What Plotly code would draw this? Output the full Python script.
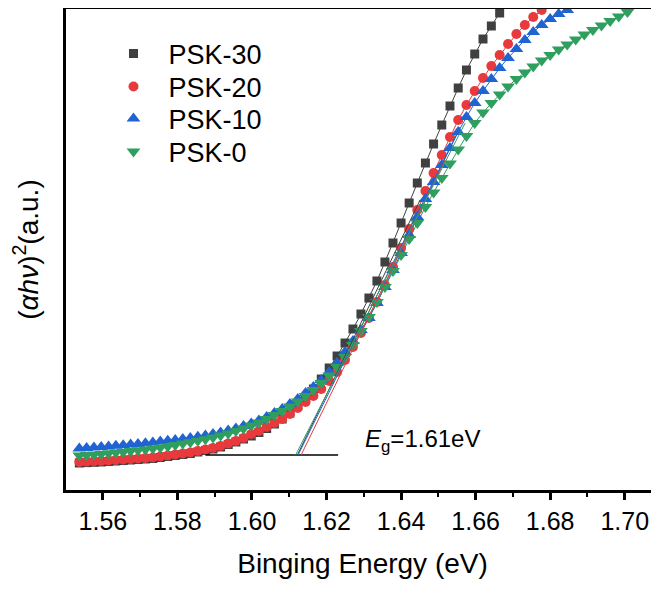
import plotly.graph_objects as go

# Photon energy grid (eV), shared by all samples
energy = [1.55368, 1.55563, 1.55759, 1.55955, 1.56151, 1.56348, 1.56545, 1.56743, 1.56942, 1.57141,
          1.57340, 1.57540, 1.57740, 1.57941, 1.58143, 1.58345, 1.58547, 1.58750, 1.58954, 1.59158,
          1.59362, 1.59568, 1.59773, 1.59980, 1.60186, 1.60394, 1.60601, 1.60810, 1.61018, 1.61228,
          1.61438, 1.61648, 1.61859, 1.62071, 1.62283, 1.62496, 1.62709, 1.62923, 1.63137, 1.63352,
          1.63567, 1.63783, 1.64000, 1.64217, 1.64435, 1.64653, 1.64872, 1.65092, 1.65312, 1.65533,
          1.65754, 1.65976, 1.66198, 1.66422, 1.66645, 1.66870, 1.67094, 1.67320, 1.67546, 1.67773,
          1.68000, 1.68228, 1.68457, 1.68686, 1.68916, 1.69146, 1.69377, 1.69609, 1.69841, 1.70074]

psk30 = [27, 27.4, 27.7, 28, 28.5, 29, 29.5, 30, 30.5, 31,
         31.5, 32.5, 33.5, 34.5, 35.5, 36.5, 38, 39.5, 41, 43,
         45.5, 48, 51, 54, 57.5, 61.5, 66, 71, 77, 84,
         92, 101, 111, 122, 134, 147, 161, 176, 192, 209,
         228, 247, 267, 287, 307, 327, 346, 365, 384, 402,
         420, 436, 451, 464, 477]

psk20 = [28, 28.4, 28.7, 29, 29.5, 30, 30.5, 31, 31.5, 32,
         32.5, 33.5, 34.5, 35.5, 36.5, 37.5, 39, 40.5, 42, 44,
         46.5, 49, 52, 56, 59, 63, 67, 71, 76, 82,
         88, 94, 101, 109, 118, 130, 143, 157, 172, 188,
         205, 223, 242, 261, 280, 299, 317, 335, 353, 370,
         385, 399, 412, 424, 435, 446, 456, 465, 473, 480]

psk10 = [41.5, 42, 42.5, 43, 43.6, 44.2, 44.8, 45.4, 46, 46.8,
         47.6, 48.4, 49.2, 50, 51, 52, 53.2, 54.5, 56, 57.5,
         59.5, 61.5, 64, 66.5, 69.5, 73, 77, 81, 86, 91,
         97, 103, 110, 118, 127, 138, 149, 160, 172, 187,
         203, 220, 237, 255, 273, 291, 308, 325, 342, 358,
         373, 387, 399, 411, 422, 432, 441, 450, 458, 465,
         471, 476, 480]

psk0 = [34.5, 35, 35.5, 36, 36.7, 37.4, 38.1, 38.9, 39.7, 40.6,
        41.5, 42.5, 43.5, 45, 46.4, 47.8, 49.2, 50.8, 52.5, 54.5,
        56.5, 59, 61.5, 64.5, 67.5, 71, 75, 79, 83.5, 88.5,
        94, 100, 107, 114.5, 123, 133, 145, 159, 173, 188,
        203, 219, 235, 251, 267, 283, 297.5, 312, 326.5, 340.5,
        354, 367, 377.5, 387, 395.5, 403.5, 411, 417.5, 423.5, 429.5,
        435, 440.5, 445.5, 450.5, 455.5, 460, 464.5, 469, 473.5, 478]

series_names = ["PSK-30", "PSK-20", "PSK-10", "PSK-0"]
series_values = [psk30, psk20, psk10, psk0]
colors = ["#404040", "#e8393d", "#1f64d2", "#2f9f5f"]
symbols = ["square", "circle", "triangle-up", "triangle-down"]
sizes = [9, 10, 12, 12]

# Tauc extrapolation: baseline and tangent lines (energy, value) end points
baseline_x = [1.5875, 1.6231]
baseline_y = [35, 35]
tangent_x = [[1.61219, 1.64511], [1.61318, 1.65181], [1.61237, 1.65584], [1.61170, 1.65718]]
tangent_y = [[35, 290], [35, 330], [35, 363], [35, 367]]

eg_text = "<i>E</i><sub>g</sub>=1.61eV"
eg_pos = (1.62982, 50)

FONT = "Arial, Liberation Sans, sans-serif"
legend_ids = ["legend", "legend2", "legend3", "legend4"]
legend_rows = [0.9064, 0.8378, 0.7713, 0.7027]

fig = go.Figure()
# thin connecting lines (no legend entry)
for vals, c in zip(series_values, colors):
    fig.add_trace(go.Scatter(x=energy[:len(vals)], y=vals, mode="lines",
                             line=dict(color=c, width=1), showlegend=False, hoverinfo="skip"))
# symbols
for name, vals, c, s, sz, lg in zip(series_names, series_values, colors, symbols, sizes, legend_ids):
    fig.add_trace(go.Scatter(
        x=energy[:len(vals)], y=vals, name=name, mode="markers", legend=lg,
        marker=dict(symbol=s, size=sz, color=c, line=dict(width=0)),
    ))

fig.add_trace(go.Scatter(x=baseline_x, y=baseline_y, mode="lines",
                         line=dict(color="black", width=1.5), showlegend=False, hoverinfo="skip"))
for tx, ty, c in zip(tangent_x, tangent_y, colors):
    fig.add_trace(go.Scatter(x=tx, y=ty, mode="lines", line=dict(color=c, width=1),
                             showlegend=False, hoverinfo="skip"))

fig.add_annotation(x=eg_pos[0], y=eg_pos[1], text=eg_text, showarrow=False,
                   xanchor="left", yanchor="middle",
                   font=dict(family=FONT, size=24, color="black"))

legend_style = dict(xanchor="left", yanchor="middle", x=0.0548,
                    bgcolor="rgba(0,0,0,0)", borderwidth=0,
                    font=dict(family=FONT, size=27, color="black"),
                    itemwidth=60)

# The page body adds an 8 px offset, so the figure is sized to fill the rest of the window.
fig.update_layout(
    width=651, height=582,
    margin=dict(l=58, r=0, t=1, b=100, autoexpand=False),
    paper_bgcolor="white", plot_bgcolor="white",
    font=dict(family=FONT, color="black"),
    showlegend=True,
    xaxis=dict(
        range=[1.5501, 1.7092], showgrid=False, zeroline=False, automargin=False,
        showline=True, linecolor="black", linewidth=2.5, mirror=True,
        ticks="outside", ticklen=7, tickwidth=2.5, tickcolor="black",
        tick0=1.56, dtick=0.02, tickformat=".2f",
        tickfont=dict(family=FONT, size=25, color="black"),
        minor=dict(ticks="outside", ticklen=4, tickwidth=2, tickcolor="black", dtick=0.01),
        title=dict(text="Binging Energy (eV)", font=dict(family=FONT, size=28, color="black"), standoff=20),
    ),
    yaxis=dict(
        range=[0, 481], showgrid=False, zeroline=False, automargin=False,
        showline=True, linecolor="black", linewidth=2.5, mirror=False,
        ticks="", showticklabels=False,
        title=dict(text="(<i>αhν</i>)<sup>2</sup>(a.u.)", font=dict(family=FONT, size=28, color="black"), standoff=17),
    ),
)
for lg, yrow in zip(legend_ids, legend_rows):
    fig.update_layout({lg: dict(legend_style, y=yrow)})

fig.write_html("out.html")
